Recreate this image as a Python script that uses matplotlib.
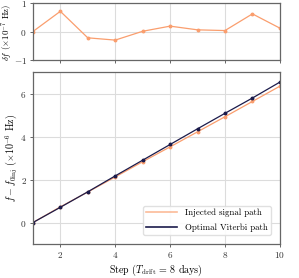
import numpy as np
import matplotlib
matplotlib.use("Agg")
import matplotlib.pyplot as plt

plt.rcParams['font.family'] = 'serif'
plt.rcParams['font.serif'] = ['cmr10']
plt.rcParams['mathtext.fontset'] = 'cm'
plt.rcParams['axes.formatter.use_mathtext'] = True
plt.rcParams['font.size'] = 6.7

steps = [1, 2, 3, 4, 5, 6, 7, 8, 9, 10]
# f - f0inj, units of 1e-6 Hz
injected = [0.0, 0.73, 1.42, 2.12, 2.83, 3.52, 4.22, 4.92, 5.63, 6.34]
viterbi = [0.0, 0.71, 1.43, 2.17, 2.90, 3.63, 4.36, 5.08, 5.79, 6.53]
# delta f, units of 1e-7 Hz
delta_f = [0.0, 0.71, -0.22, -0.30, 0.01, 0.19, 0.06, 0.035, 0.62, 0.12]

orange = '#fa9e6e'
navy = '#1b1b4b'
spine_c = '#666666'
grid_c = '#dcdcdc'

fig = plt.figure(figsize=(2.99, 2.78), dpi=100)
ax1 = fig.add_axes([0.110, 0.784, 0.826, 0.205])
ax2 = fig.add_axes([0.110, 0.122, 0.826, 0.619])

for ax in (ax1, ax2):
    ax.grid(True, color=grid_c, linewidth=0.8)
    ax.set_axisbelow(True)
    for s in ax.spines.values():
        s.set_color(spine_c)
        s.set_linewidth(0.9)
    ax.tick_params(length=2.5, width=0.7, pad=2, color=spine_c, labelcolor='#333333')
    ax.set_xlim(1, 10)
    ax.set_xticks([2, 4, 6, 8, 10])

ax1.plot(steps, delta_f, color=orange, lw=0.9, marker='o', ms=1.8)
ax1.set_ylim(-1, 1)
ax1.set_yticks([-1, 0, 1])
ax1.set_xticklabels([])
ax1.set_ylabel(r'$\delta f$ $(\times 10^{-7}$ Hz)', fontsize=6.4)
ax1.yaxis.set_label_coords(-0.073, 0.48)

ax2.plot(steps, injected, color=orange, lw=0.9, marker='o', ms=1.8)
ax2.plot(steps, viterbi, color=navy, lw=0.9, marker='o', ms=1.8)
ax2.set_ylim(-1, 7)
ax2.set_yticks([0, 2, 4, 6])
ax2.set_ylabel(r'$f - f_{0{\rm inj}}$ $(\times 10^{-6}$ Hz)', fontsize=7.2)
ax2.yaxis.set_label_coords(-0.055, 0.5)
ax2.set_xlabel(r'Step ($T_{\rm drift}$ = 8 days)', fontsize=7.2, labelpad=2)

h1, = ax2.plot([], [], color=orange, lw=1.2, alpha=0.7)
h2, = ax2.plot([], [], color=navy, lw=1.2)
ax2.legend([h1, h2], ['Injected signal path', 'Optimal Viterbi path'],
           loc='lower right', fontsize=6.4, handlelength=3.4,
           borderpad=0.35, borderaxespad=1.05, labelspacing=0.65,
           handletextpad=0.9,
           framealpha=0.9, edgecolor='#dddddd', fancybox=True)

fig.savefig('out.png', dpi=100)
